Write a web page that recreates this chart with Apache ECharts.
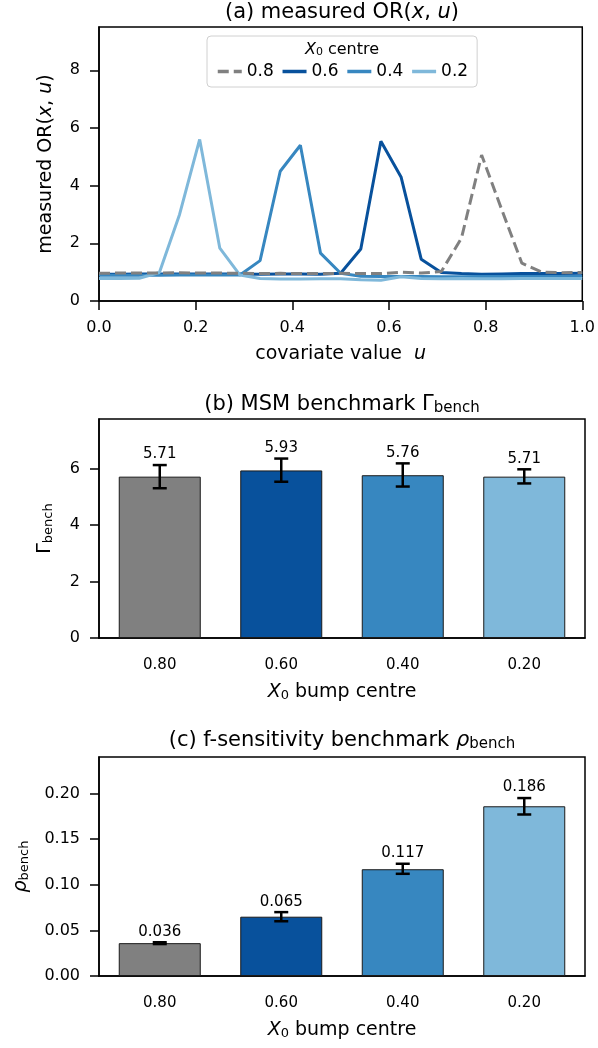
<!DOCTYPE html>
<html>
<head>
<meta charset="utf-8">
<script src="https://cdn.jsdelivr.net/npm/echarts@6/dist/echarts.min.js"></script>
<style>
html, body { margin: 0; padding: 0; background: #fff; }
#chart { width: 598px; height: 1048px; }
</style>
</head>
<body>
<div id="chart"></div>
<script>
// (a) measured OR(x, u), one curve per X0 bump centre
var uValues = [0, 0.0417, 0.0833, 0.125, 0.1667, 0.2083, 0.25, 0.2917, 0.3333, 0.375, 0.4167, 0.4583, 0.5,
               0.5417, 0.5833, 0.625, 0.6667, 0.7083, 0.75, 0.7917, 0.8333, 0.875, 0.9167, 0.9583, 1];
var orCentre08 = [0.96, 0.97, 0.97, 0.97, 0.98, 0.97, 0.97, 0.96, 0.95, 0.96, 0.95, 0.95, 0.96,
                  0.95, 0.95, 1.00, 0.97, 1.02, 2.18, 5.06, 3.17, 1.31, 1.00, 0.98, 0.99];
var orCentre06 = [0.93, 0.93, 0.94, 0.94, 0.94, 0.94, 0.94, 0.94, 0.93, 0.94, 0.94, 0.93, 0.96,
                  1.80, 5.54, 4.30, 1.45, 0.99, 0.95, 0.93, 0.94, 0.95, 0.95, 0.95, 0.96];
var orCentre04 = [0.89, 0.89, 0.89, 0.89, 0.90, 0.90, 0.90, 0.90, 1.40, 4.50, 5.40, 1.66, 0.96,
                  0.86, 0.85, 0.85, 0.85, 0.84, 0.84, 0.85, 0.85, 0.85, 0.85, 0.85, 0.85];
var orCentre02 = [0.78, 0.78, 0.79, 0.99, 3.00, 5.60, 1.83, 0.90, 0.78, 0.76, 0.76, 0.77, 0.77,
                  0.74, 0.72, 0.84, 0.78, 0.77, 0.78, 0.77, 0.77, 0.78, 0.78, 0.78, 0.78];
var centreNames = ['0.8', '0.6', '0.4', '0.2'];

// (b) MSM benchmark and (c) f-sensitivity benchmark
var bumpCentres = ['0.80', '0.60', '0.40', '0.20'];
var gammaBench = [5.71, 5.93, 5.76, 5.71];
var gammaLow = [5.30, 5.53, 5.36, 5.47];
var gammaHigh = [6.12, 6.35, 6.18, 5.97];
var rhoBench = [0.036, 0.065, 0.117, 0.186];
var rhoLow = [0.035, 0.060, 0.112, 0.177];
var rhoHigh = [0.037, 0.070, 0.123, 0.195];

var colours = ['#808080', '#08519c', '#3787c0', '#7fb8da'];
var FONT = '"DejaVu Sans", sans-serif';

function sub(size) {
    return {
        it: { fontFamily: FONT, fontSize: size, fontStyle: 'italic', color: '#000' },
        s: { fontFamily: FONT, fontSize: Math.round(size * 0.7), color: '#000', verticalAlign: 'bottom', lineHeight: 8 }
    };
}

function pairs(ys) {
    return uValues.map(function (u, i) { return [u, ys[i]]; });
}

function lineSeries(idx, ys) {
    return {
        name: centreNames[idx], type: 'line', xAxisIndex: 0, yAxisIndex: 0,
        data: pairs(ys), symbol: 'none', z: idx === 0 ? 4 : 3,
        lineStyle: { color: colours[idx], width: 3, type: idx === 0 ? [11, 5] : 'solid' },
        itemStyle: { color: colours[idx] }
    };
}

function barSeries(ax, values) {
    return {
        type: 'bar', xAxisIndex: ax, yAxisIndex: ax, barWidth: 82,
        data: values.map(function (v, i) {
            return { value: v, itemStyle: { color: colours[i] } };
        }),
        itemStyle: { borderColor: '#1a1a1a', borderWidth: 1 }
    };
}

function errorSeries(ax, values, low, high, digits) {
    return {
        type: 'custom', xAxisIndex: ax, yAxisIndex: ax, z: 5,
        data: values.map(function (v, i) { return [i, low[i], high[i], v]; }),
        encode: { x: 0, y: [1, 2] },
        renderItem: function (params, api) {
            var lo = api.coord([api.value(0), api.value(1)]);
            var hi = api.coord([api.value(0), api.value(2)]);
            var x = lo[0], w = 7;
            function seg(x1, y1, x2, y2) {
                return { type: 'line', shape: { x1: x1, y1: y1, x2: x2, y2: y2 }, style: { stroke: '#000', lineWidth: 2.5 } };
            }
            return {
                type: 'group', children: [
                    seg(x, lo[1], x, hi[1]),
                    seg(x - w, lo[1], x + w, lo[1]),
                    seg(x - w, hi[1], x + w, hi[1]),
                    { type: 'text', x: x, y: hi[1] - 3,
                      style: { text: api.value(3).toFixed(digits), fill: '#000', fontSize: 15, fontFamily: FONT,
                               align: 'center', verticalAlign: 'bottom' } }
                ]
            };
        }
    };
}

function yAxisOf(ax, max, ticks, fmt, name, gap) {
    return {
        type: 'value', gridIndex: ax, min: 0, max: max,
        name: name, nameLocation: 'middle', nameGap: gap, nameRotate: 90,
        nameTextStyle: { fontFamily: FONT, fontSize: 19, color: '#000', rich: sub(19) },
        axisLine: { show: true, lineStyle: { color: '#000', width: 1.5 } },
        axisTick: { show: true, length: 9, customValues: ticks, lineStyle: { color: '#000', width: 1.5 } },
        axisLabel: { customValues: ticks, fontFamily: FONT, fontSize: 16, color: '#000', margin: 19, formatter: fmt },
        splitLine: { show: false }
    };
}

function catAxis(ax) {
    return {
        type: 'category', gridIndex: ax, data: bumpCentres,
        name: '{it|X}{s|0} bump centre', nameLocation: 'middle', nameGap: 45,
        nameTextStyle: { fontFamily: FONT, fontSize: 19, color: '#000', rich: sub(19) },
        axisLine: { onZero: false, lineStyle: { color: '#000', width: 1.5 } },
        axisTick: { alignWithLabel: true, length: 9, lineStyle: { color: '#000', width: 1.5 } },
        axisLabel: { fontFamily: FONT, fontSize: 15, color: '#000', margin: 20 }
    };
}

function heading(y, text, size) {
    return {
        type: 'text', x: 342, y: y, z: 10,
        style: { text: text, rich: sub(size), fontFamily: FONT, fontSize: size, fill: '#000',
                 align: 'center', verticalAlign: 'middle' }
    };
}

var gridBox = { show: true, borderColor: '#000', borderWidth: 1.5, backgroundColor: 'transparent' };

var option = {
    animation: false,
    backgroundColor: '#fff',
    grid: [
        Object.assign({ left: 99, right: 13, top: 27, height: 274 }, gridBox),
        Object.assign({ left: 99, right: 13, top: 419, height: 219 }, gridBox),
        Object.assign({ left: 99, right: 13, top: 757, height: 219 }, gridBox)
    ],
    legend: {
        data: centreNames,
        left: 207, top: 36,
        padding: [27, 9, 7, 9],
        itemWidth: 24, itemHeight: 14, itemGap: 7,
        itemStyle: { opacity: 0, borderWidth: 0 },
        lineStyle: { width: 3.5 },
        borderColor: '#d0d0d0', borderWidth: 1, borderRadius: 4,
        backgroundColor: 'rgba(255,255,255,0.8)',
        textStyle: { fontFamily: FONT, fontSize: 17, color: '#000' }
    },
    graphic: [
        heading(13, '(a) measured OR({it|x}, {it|u})', 21),
        heading(50, '{it|X}{s|0} centre', 16),
        heading(405, '(b) MSM benchmark Γ{s|bench}', 21),
        heading(741, '(c) f-sensitivity benchmark {it|ρ}{s|bench}', 21)
    ],
    xAxis: [
        {
            type: 'value', gridIndex: 0, min: 0, max: 1, interval: 0.2,
            name: 'covariate value  {it|u}', nameLocation: 'middle', nameGap: 44,
            nameTextStyle: { fontFamily: FONT, fontSize: 19, color: '#000', rich: sub(19) },
            axisLine: { onZero: false, lineStyle: { color: '#000', width: 1.5 } },
            axisTick: { show: true, length: 9, lineStyle: { color: '#000', width: 1.5 } },
            axisLabel: { fontFamily: FONT, fontSize: 16, color: '#000', margin: 19,
                         formatter: function (v) { return v.toFixed(1); } },
            splitLine: { show: false }
        },
        catAxis(1),
        catAxis(2)
    ],
    yAxis: [
        yAxisOf(0, 9.5, [0, 2, 4, 6, 8], function (v) { return String(v); }, 'measured OR({it|x}, {it|u})', 43),
        yAxisOf(1, 7.75, [0, 2, 4, 6], function (v) { return String(v); }, 'Γ{s|bench}', 44),
        yAxisOf(2, 0.24, [0, 0.05, 0.1, 0.15, 0.2], function (v) { return v.toFixed(2); }, '{it|ρ}{s|bench}', 68)
    ],
    series: [
        lineSeries(0, orCentre08),
        lineSeries(1, orCentre06),
        lineSeries(2, orCentre04),
        lineSeries(3, orCentre02),
        barSeries(1, gammaBench),
        errorSeries(1, gammaBench, gammaLow, gammaHigh, 2),
        barSeries(2, rhoBench),
        errorSeries(2, rhoBench, rhoLow, rhoHigh, 3)
    ]
};

var chart = echarts.init(document.getElementById('chart'), null, { renderer: 'canvas' });
chart.setOption(option);
</script>
</body>
</html>
